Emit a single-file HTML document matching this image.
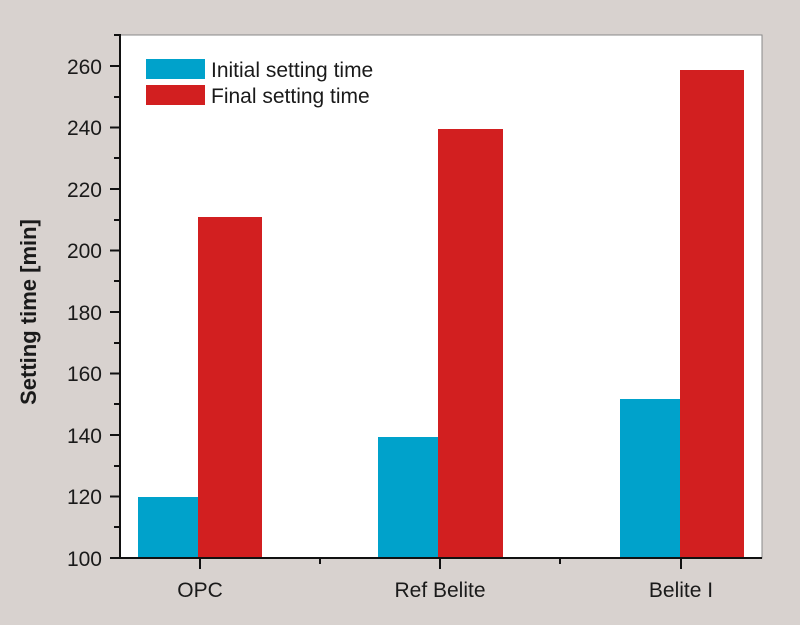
<!DOCTYPE html>
<html><head><style>
html,body{margin:0;padding:0;background:#d8d2cf;}
svg{display:block}
text{font-family:"Liberation Sans",sans-serif;fill:#1a1a1a}
</style></head><body>
<svg width="800" height="625" viewBox="0 0 800 625">
<rect x="0" y="0" width="800" height="625" fill="#d8d2cf"/>
<rect x="120" y="35" width="642" height="523" fill="#fff" stroke="#888" stroke-width="1"/>
<g fill="#00a2cb">
<rect x="138" y="497" width="60" height="61"/>
<rect x="378" y="437" width="60" height="121"/>
<rect x="620" y="399" width="60" height="159"/>
</g>
<g fill="#d21f20">
<rect x="198" y="217" width="64" height="341"/>
<rect x="438" y="129" width="65" height="429"/>
<rect x="680" y="70" width="64" height="488"/>
</g>
<g stroke="#111" stroke-width="2">
<line x1="120" y1="34" x2="120" y2="559"/>
<line x1="119" y1="558" x2="762" y2="558"/>
<line x1="110" y1="66" x2="120" y2="66"/><line x1="110" y1="127.5" x2="120" y2="127.5"/>
<line x1="110" y1="189" x2="120" y2="189"/><line x1="110" y1="250.5" x2="120" y2="250.5"/>
<line x1="110" y1="312" x2="120" y2="312"/><line x1="110" y1="373.5" x2="120" y2="373.5"/>
<line x1="110" y1="435" x2="120" y2="435"/><line x1="110" y1="496.5" x2="120" y2="496.5"/>
<line x1="110" y1="558" x2="120" y2="558"/>
<line x1="114" y1="35" x2="120" y2="35"/><line x1="114" y1="97" x2="120" y2="97"/>
<line x1="114" y1="158" x2="120" y2="158"/><line x1="114" y1="220" x2="120" y2="220"/>
<line x1="114" y1="281" x2="120" y2="281"/><line x1="114" y1="343" x2="120" y2="343"/>
<line x1="114" y1="404" x2="120" y2="404"/><line x1="114" y1="466" x2="120" y2="466"/>
<line x1="114" y1="527" x2="120" y2="527"/>
<line x1="200" y1="558" x2="200" y2="569"/><line x1="440" y1="558" x2="440" y2="569"/>
<line x1="681" y1="558" x2="681" y2="569"/>
<line x1="320" y1="558" x2="320" y2="564"/><line x1="560" y1="558" x2="560" y2="564"/>
</g>
<g font-size="21" text-anchor="end">
<text x="102" y="74">260</text><text x="102" y="135">240</text>
<text x="102" y="197">220</text><text x="102" y="258">200</text>
<text x="102" y="320">180</text><text x="102" y="381">160</text>
<text x="102" y="443">140</text><text x="102" y="504">120</text>
<text x="102" y="566">100</text>
</g>
<g font-size="21" text-anchor="middle">
<text x="200" y="597">OPC</text><text x="440" y="597">Ref Belite</text><text x="681" y="597">Belite I</text>
</g>
<text transform="translate(36,312) rotate(-90)" font-size="22" font-weight="bold" text-anchor="middle">Setting time [min]</text>
<rect x="146" y="59" width="59" height="20" fill="#00a2cb"/>
<rect x="146" y="85" width="59" height="20" fill="#d21f20"/>
<text x="211" y="77" font-size="21">Initial setting time</text>
<text x="211" y="103" font-size="21">Final setting time</text>
</svg>
</body></html>
